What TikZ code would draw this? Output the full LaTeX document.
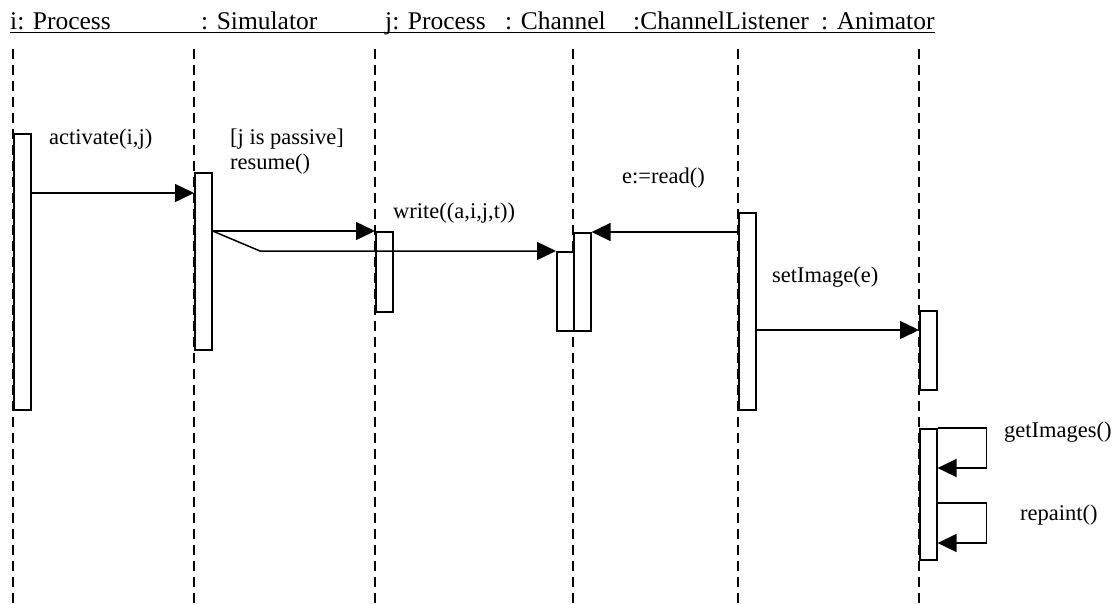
\documentclass[tikz,border=0pt]{standalone}
\usepackage{fontspec}
\setmainfont{Liberation Serif}
\usetikzlibrary{arrows.meta}
\begin{document}
\begin{tikzpicture}[x=1pt,y=-1pt,
 lifeline/.style={line width=1.4pt, dash pattern=on 10pt off 6pt},
 actbox/.style={draw, line width=1.6pt, fill=white, rectangle, inner sep=0pt, minimum width=17pt, anchor=north west},
 msg/.style={line width=1.5pt, -{Triangle[length=19pt,width=18pt]}},
 lbl/.style={anchor=base west, inner sep=0pt, font=\fontsize{22.5}{24}\selectfont},
 hdr/.style={anchor=base west, inner sep=0pt, font=\fontsize{25.5}{27}\selectfont}]
\useasboundingbox (0,0) rectangle (1113,603);
% header
\node[hdr] (h1) at (10,29) {i: Process};
\node[hdr] (h2) at (201,29) {: Simulator};
\node[hdr] (h3) at (385,29) {j: Process};
\node[hdr] (h4) at (505,29) {: Channel};
\node[hdr] (h5) at (633,29) {:ChannelListener};
\node[hdr] (h6) at (821,29) {: Animator};
\draw[line width=1.6pt] ([yshift=-3.5pt]h1.base west) -- ([yshift=-3.5pt]h6.base east);
% lifelines
\foreach \x/\n in {13/i,194/s,375/j,573/c,738/l,919/a}{
  \coordinate (top\n) at (\x,49);
  \coordinate (bot\n) at (\x,603);
  \draw[lifeline] (top\n) -- (bot\n);
}
% activation boxes
\node[actbox, minimum height=276pt] (ai) at (13,133) {};
\node[actbox, minimum height=177pt] (as) at (194,172) {};
\node[actbox, minimum height=80pt] (aj) at (375,231) {};
\node[actbox, minimum height=79pt] (acb) at (556,251) {};
\node[actbox, minimum height=98pt] (aca) at (573,232) {};
\node[actbox, minimum height=197pt] (al) at (738,212) {};
\node[actbox, minimum height=79pt] (aa1) at (919,310) {};
\node[actbox, minimum height=131pt] (aa2) at (919,428) {};
% messages
\coordinate (bend) at (260,251);
\draw[msg] (ai.east |- 0,193) -- (as.west |- 0,193);
\draw[msg] (as.east |- 0,231) -- (aj.north west);
\draw[msg] (as.east |- 0,231) -- (bend) -- (acb.north west);
\draw[msg] (al.west |- 0,232) -- (aca.north east);
\draw[msg] (al.east |- 0,330) -- (aa1.west |- 0,330);
\draw[msg] (aa2.north east) -- ++(49,0) -- ++(0,40) -- (aa2.east |- 0,468);
\draw[msg] (aa2.east |- 0,503) -- ++(49,0) -- ++(0,40) -- (aa2.east |- 0,543);
% labels
\node[lbl] (t1) at (49,144) {activate(i,j)};
\node[lbl] (t2) at (230,144) {[j is passive]};
\node[lbl] (t3) at (230,169) {resume()};
\node[lbl] (t4) at (393,218) {write((a,i,j,t))};
\node[lbl] (t5) at (622,183) {e:=read()};
\node[lbl] (t6) at (772,282) {setImage(e)};
\node[lbl] (t7) at (1004,437) {getImages()};
\node[lbl] (t8) at (1020,520) {repaint()};
\end{tikzpicture}
\end{document}
